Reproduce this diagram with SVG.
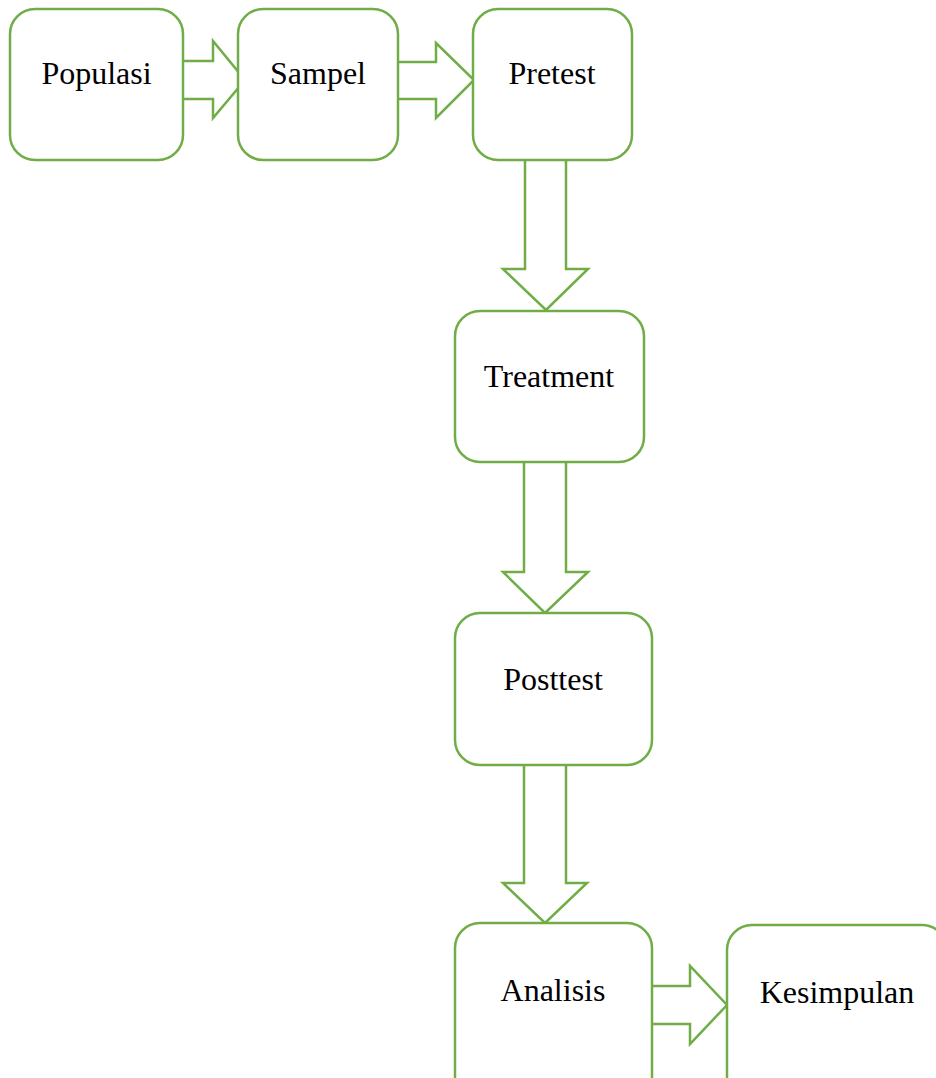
<svg xmlns="http://www.w3.org/2000/svg" width="936" height="1078" viewBox="0 0 936 1078">
<style>
.box{fill:#fff;stroke:#70AD47;stroke-width:2.5}
.arr{fill:#fff;stroke:#70AD47;stroke-width:2.5;stroke-linejoin:miter}
.lbl{font-family:"Liberation Serif","Times New Roman",serif;font-size:32px;fill:#000;text-anchor:middle}
</style>
<rect width="936" height="1078" fill="#fff"/>
<g id="connectors">
<path class="arr" d="M183,61 H213 V41 L245,80 L213,118 V99 H183"/>
<path class="arr" d="M397,62 H436 V43 L474,80 L436,118 V99 H397"/>
<path class="arr" d="M525,160 V269 H503 L546,310 L588,269 H566 V160"/>
<path class="arr" d="M524,462 V572 H503 L545,613 L588,572 H566 V462"/>
<path class="arr" d="M524,765 V883 H503 L545,923 L587,883 H566 V765"/>
<path class="arr" d="M652,986 H690 V966 L727,1005 L690,1044 V1024 H652"/>
</g>
<g id="populasi"><rect class="box" x="10" y="9" width="173" height="151" rx="25"/><text class="lbl" x="96.5" y="84">Populasi</text></g>
<g id="sampel"><rect class="box" x="238" y="9" width="160" height="151" rx="25"/><text class="lbl" x="318" y="84">Sampel</text></g>
<g id="pretest"><rect class="box" x="473" y="9" width="159" height="151" rx="25"/><text class="lbl" x="552" y="84">Pretest</text></g>
<g id="treatment"><rect class="box" x="455" y="311" width="189" height="151" rx="25"/><text class="lbl" x="549" y="387">Treatment</text></g>
<g id="posttest"><rect class="box" x="455" y="613" width="197" height="152" rx="25"/><text class="lbl" x="553" y="690">Posttest</text></g>
<g id="analisis"><rect class="box" x="455" y="923" width="197" height="180" rx="25"/><text class="lbl" x="553" y="1001">Analisis</text></g>
<g id="kesimpulan"><rect class="box" x="727" y="925" width="220" height="180" rx="25"/><text class="lbl" x="837" y="1003">Kesimpulan</text></g>
</svg>
